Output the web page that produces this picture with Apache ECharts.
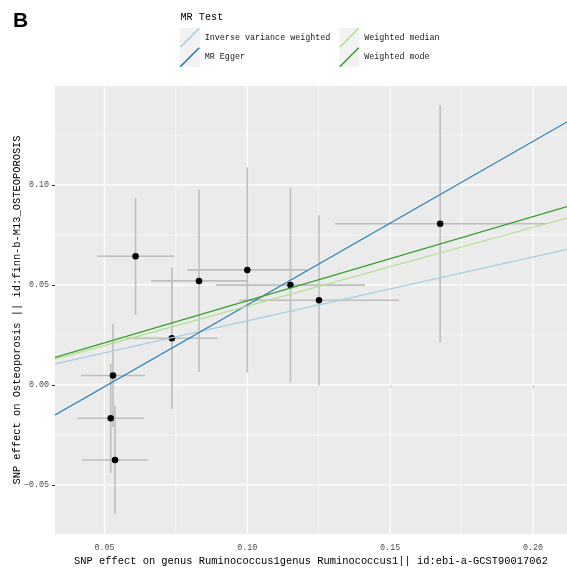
<!DOCTYPE html>
<html><head><meta charset="utf-8">
<script src="https://cdn.jsdelivr.net/npm/echarts@6/dist/echarts.min.js"></script>
<style>html,body{margin:0;padding:0;background:#fff}#c{width:567px;height:568px}</style>
</head><body><div id="c"></div>
<script>
// SNP-level estimates (exposure x, outcome y) and their standard errors
const snpX = [0.0609, 0.0736, 0.0831, 0.1000, 0.1151, 0.1251, 0.1675, 0.0530, 0.0522, 0.0537];
const snpY = [0.0643, 0.0233, 0.0520, 0.0575, 0.0499, 0.0423, 0.0806, 0.0047, -0.0167, -0.0376];
const seX  = [0.0134, 0.0160, 0.0168, 0.0210, 0.0261, 0.0279, 0.0368, 0.0112, 0.0116, 0.0115];
const seY  = [0.0292, 0.0354, 0.0456, 0.0513, 0.0487, 0.0425, 0.0593, 0.0259, 0.0272, 0.0271];
// MR methods: slope and intercept of each fitted line
const methods = ['Inverse variance weighted', 'MR Egger', 'Weighted median', 'Weighted mode'];
const slopes = [0.320, 0.818, 0.394, 0.421];
const intercepts = [0, -0.0418, 0, 0];
const methodColors = ['#A6CEE3', '#1F78B4', '#B2DF8A', '#33A02C'];
// axes
const xRange = [0.0327, 0.2119];
const yRange = [-0.0746, 0.1495];
const xTicks = [0.05, 0.10, 0.15, 0.20];
const xTickLabels = ['0.05', '0.10', '0.15', '0.20'];
const xMinor = [0.075, 0.125, 0.175];
const yTicks = [-0.05, 0, 0.05, 0.10];
const yTickLabels = ['\u22120.05', '0.00', '0.05', '0.10'];
const yMinor = [-0.025, 0.025, 0.075, 0.125];
const xTitle = 'SNP effect on genus Ruminococcus1genus Ruminococcus1|| id:ebi-a-GCST90017062';
const yTitle = 'SNP effect on Osteoporosis || id:finn-b-M13_OSTEOPOROSIS';

const MONO = '"Liberation Mono", "DejaVu Sans Mono", monospace';
const chart = echarts.init(document.getElementById('c'), null, {renderer: 'canvas'});

function lbl(ticks, labels) {
  return function (v) {
    for (let i = 0; i < ticks.length; i++) if (Math.abs(v - ticks[i]) < 1e-9) return labels[i];
    return '';
  };
}

// grid lines: [value, horizontal?, width]
const gridData = [].concat(
  xMinor.map(v => [v, 0, 0.6]), yMinor.map(v => [v, 1, 0.6]),
  xTicks.map(v => [v, 0, 1.2]), yTicks.map(v => [v, 1, 1.2])
);
const gridLines = {
  type: 'custom', z: 1, silent: true, clip: false,
  encode: {x: -1, y: -1},
  data: gridData,
  renderItem: function (params, api) {
    const cs = params.coordSys;
    const v = api.value(0), hor = api.value(1), w = api.value(2);
    let shape;
    if (hor) {
      const p = api.coord([xRange[0], v]);
      shape = {x1: cs.x, y1: p[1], x2: cs.x + cs.width, y2: p[1]};
    } else {
      const p = api.coord([v, yRange[0]]);
      shape = {x1: p[0], y1: cs.y, x2: p[0], y2: cs.y + cs.height};
    }
    return {type: 'line', shape: shape, style: {stroke: '#FFFFFF', lineWidth: w}};
  }
};

const barData = snpX.map((x, i) => [x, snpY[i], seX[i], seY[i]]);
const errorBars = {
  type: 'custom', z: 2, silent: true,
  encode: {x: 0, y: 1},
  data: barData,
  renderItem: function (params, api) {
    const x = api.value(0), y = api.value(1), sx = api.value(2), sy = api.value(3);
    const h1 = api.coord([x - sx, y]), h2 = api.coord([x + sx, y]);
    const v1 = api.coord([x, y - sy]), v2 = api.coord([x, y + sy]);
    const st = {stroke: '#BEBEBE', lineWidth: 1.6};
    return {type: 'group', children: [
      {type: 'line', shape: {x1: v1[0], y1: v1[1], x2: v2[0], y2: v2[1]}, style: st},
      {type: 'line', shape: {x1: h1[0], y1: h1[1], x2: h2[0], y2: h2[1]}, style: st}
    ]};
  }
};

const points = {
  type: 'scatter', z: 3, silent: true,
  data: snpX.map((x, i) => [x, snpY[i]]),
  symbolSize: 6.5,
  itemStyle: {color: '#000', opacity: 1}
};

const lineSeries = methods.map((m, i) => ({
  name: m, type: 'line', z: 4, silent: true,
  showSymbol: false, symbol: 'none',
  color: methodColors[i],
  itemStyle: {color: methodColors[i]},
  lineStyle: {color: methodColors[i], width: 1.2},
  data: xRange.map(x => [x, intercepts[i] + slopes[i] * x]),
  animation: false
}));

const diag = 'path://M0,18.9 L18.9,0 L20,0 L20,1.1 L1.1,20 L0,20 Z';
const legendCommon = {
  orient: 'vertical', top: 28, padding: 0,
  itemWidth: 20, itemHeight: 19.5, itemGap: 0,
  icon: diag, selectedMode: false,
  textStyle: {fontFamily: MONO, fontSize: 8.4, color: '#1a1a1a'}
};

const keyRects = [];
[[180, 28], [180, 47.5], [339.5, 28], [339.5, 47.5]].forEach(p => {
  keyRects.push({type: 'rect', left: p[0], top: p[1], z: 0, shape: {width: 20, height: 19.5}, style: {fill: '#F2F2F2'}});
});

chart.setOption({
  animation: false,
  backgroundColor: '#fff',
  grid: {left: 55, right: 0, top: 86, bottom: 34, show: true, backgroundColor: '#EBEBEB', borderWidth: 0,
    containLabel: false, outerBoundsMode: 'none'},
  xAxis: {
    type: 'value', min: xRange[0], max: xRange[1],
    splitLine: {show: false}, axisLine: {show: false},
    axisTick: {show: true, customValues: xTicks, length: 3, lineStyle: {color: '#333', width: 1}},
    axisLabel: {customValues: xTicks, formatter: lbl(xTicks, xTickLabels), margin: 10,
      fontFamily: MONO, fontSize: 8.4, color: '#4D4D4D'},
    name: xTitle, nameLocation: 'middle', nameGap: 22, nameMoveOverlap: false,
    nameTextStyle: {fontFamily: MONO, fontSize: 10.4, color: '#000'}
  },
  yAxis: {
    type: 'value', min: yRange[0], max: yRange[1],
    splitLine: {show: false}, axisLine: {show: false},
    axisTick: {show: true, customValues: yTicks, length: 3, lineStyle: {color: '#333', width: 1}},
    axisLabel: {customValues: yTicks, formatter: lbl(yTicks, yTickLabels), margin: 6,
      fontFamily: MONO, fontSize: 8.4, color: '#4D4D4D'},
    name: yTitle, nameLocation: 'middle', nameGap: 33, nameMoveOverlap: false,
    nameTextStyle: {fontFamily: MONO, fontSize: 10.4, color: '#000'}
  },
  legend: [
    Object.assign({left: 180, data: [methods[0], methods[1]]}, legendCommon),
    Object.assign({left: 339.5, data: [methods[2], methods[3]]}, legendCommon)
  ],
  graphic: keyRects.concat([
    {type: 'text', left: 180.5, top: 12, z: 10,
      style: {text: 'MR Test', fontFamily: MONO, fontSize: 10.2, fill: '#000'}},
    {type: 'text', left: 13, top: 11, z: 10,
      style: {text: 'B', fontFamily: '"Liberation Sans", Arial, sans-serif', fontWeight: 'bold', fontSize: 21, fill: '#000'}}
  ]),
  series: [gridLines, errorBars, points].concat(lineSeries)
});
</script>
</body></html>
